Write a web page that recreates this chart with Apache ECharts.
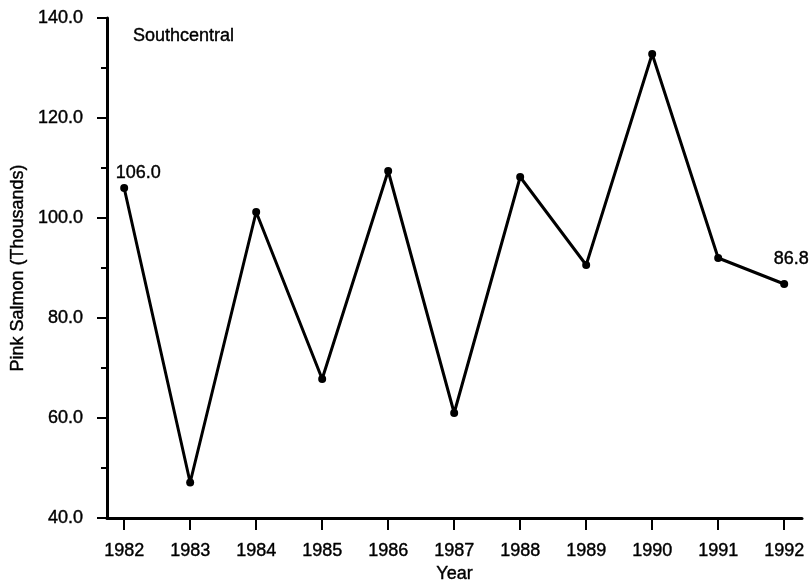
<!DOCTYPE html>
<html>
<head>
<meta charset="utf-8">
<script src="https://cdn.jsdelivr.net/npm/echarts@6/dist/echarts.min.js"></script>
<style>
  html, body { margin: 0; padding: 0; background: #fff; }
  #chart { width: 809px; height: 582px; }
</style>
</head>
<body>
<div id="chart"></div>
<script>
var years = [1982, 1983, 1984, 1985, 1986, 1987, 1988, 1989, 1990, 1991, 1992];
var pinkSalmon = [106.0, 47.1, 101.2, 67.8, 109.4, 61.0, 108.2, 90.6, 132.8, 92.0, 86.8];
var yTicks = [40, 60, 80, 100, 120, 140];

var font = "'Liberation Sans', Arial, sans-serif";
// scanned print text is a bit heavier than plain Arial
var ink = { textBorderColor: '#000', textBorderWidth: 0.4 };
var myChart = echarts.init(document.getElementById('chart'));

var points = [];
for (var i = 0; i < years.length; i++) {
	var item = { value: [years[i], pinkSalmon[i]] };
	if (i == 0) {
		item.label = { show: true, offset: [14, 2] };
	} else if (i == years.length - 1) {
		item.label = { show: true, offset: [7, -8] };
	}
	points.push(item);
}

function txt(extra) {
	return Object.assign({ fontFamily: font, fontSize: 18, color: '#000' }, ink, extra || {});
}

var option = {
	animation: false,
	backgroundColor: '#fff',
	title: {
		text: 'Southcentral',
		left: 128,
		top: 22,
		textStyle: txt({ fontWeight: 'normal' })
	},
	grid: { left: 107, right: 7, top: 18, bottom: 64, containLabel: false, outerBoundsMode: 'none' },
	xAxis: {
		type: 'value',
		min: 1981.74,
		max: 1992.27,
		name: 'Year',
		nameLocation: 'middle',
		nameGap: 46,
		nameTextStyle: txt(),
		axisLine: { show: true, lineStyle: { color: '#000', width: 3 } },
		axisTick: { show: true, length: 12, customValues: years, lineStyle: { color: '#000', width: 2 } },
		axisLabel: Object.assign({
			customValues: years,
			margin: 24,
			formatter: function (v) { return String(v); }
		}, txt()),
		splitLine: { show: false }
	},
	yAxis: {
		type: 'value',
		min: yTicks[0],
		max: yTicks[yTicks.length - 1],
		interval: 20,
		name: 'Pink Salmon (Thousands)',
		nameLocation: 'middle',
		nameGap: 73,
		nameTextStyle: txt(),
		axisLine: { show: true, lineStyle: { color: '#000', width: 3 } },
		axisTick: { show: true, length: 10, lineStyle: { color: '#000', width: 2 } },
		minorTick: { show: true, splitNumber: 2, length: 6, lineStyle: { color: '#000', width: 2 } },
		axisLabel: Object.assign({
			margin: 24,
			formatter: function (v) { return v.toFixed(1); }
		}, txt()),
		splitLine: { show: false }
	},
	series: [{
		type: 'line',
		data: points,
		symbol: 'circle',
		symbolSize: 8,
		lineStyle: { color: '#000', width: 3 },
		itemStyle: { color: '#000' },
		label: Object.assign({
			show: false,
			position: 'top',
			distance: 4,
			formatter: function (p) { return p.value[1].toFixed(1); }
		}, txt())
	}]
};

myChart.setOption(option);
</script>
</body>
</html>
